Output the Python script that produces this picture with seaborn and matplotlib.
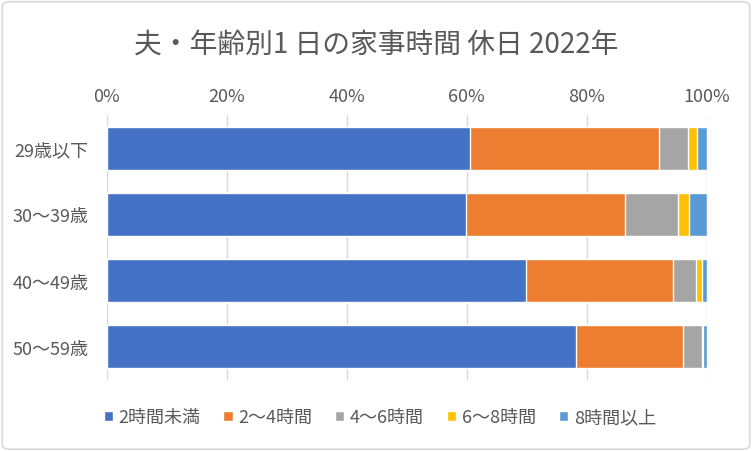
import numpy as np
import pandas as pd
import seaborn as sns
import matplotlib.pyplot as plt
from matplotlib.patches import FancyBboxPatch, Patch
from matplotlib.ticker import PercentFormatter

# data (share of husbands, by age group)
ages = ["29歳以下", "30～39歳", "40～49歳", "50～59歳"]
categories = ["2時間未満", "2～4時間", "4～6時間", "6～8時間", "8時間以上"]
under2 = [60.5, 59.8, 69.8, 78.2]
h2_4 = [31.5, 26.6, 24.5, 17.8]
h4_6 = [4.8, 8.8, 3.9, 3.2]
h6_8 = [1.5, 1.8, 1.0, 0.2]
over8 = [1.7, 3.0, 0.8, 0.6]
colors = ["#4472C4", "#ED7D31", "#A5A5A5", "#FFC000", "#5B9BD5"]

sns.set_style("white")
plt.rcParams["font.family"] = ["Noto Sans CJK JP", "DejaVu Sans"]

df = pd.DataFrame({"age": ages, categories[0]: under2, categories[1]: h2_4,
                   categories[2]: h4_6, categories[3]: h6_8, categories[4]: over8})
cum = df[categories].cumsum(axis=1) / 100

fig = plt.figure(figsize=(7.52, 4.52), dpi=100)
ax = fig.add_axes([0.142, 0.157, 0.798, 0.586])

# draw cumulative totals from the top category down so they stack
for cat, c in reversed(list(zip(categories, colors))):
    sns.barplot(x=cum[cat], y=df["age"], color=c, orient="h", width=0.65,
                ax=ax, zorder=3, saturation=1)

ax.set_xlim(0, 1)
ax.set_xticks(np.arange(0, 1.01, 0.2))
ax.xaxis.set_major_formatter(PercentFormatter(1, decimals=0))
ax.xaxis.tick_top()
ax.grid(axis="x", color="#D9D9D9", lw=1, zorder=0)
ax.set_xlabel("")
ax.set_ylabel("")
ax.tick_params(length=0, labelsize=13, colors="#595959")
ax.tick_params(axis="x", pad=7)
ax.tick_params(axis="y", pad=13)
for s in ax.spines.values():
    s.set_visible(False)

fig.suptitle("夫・年齢別1 日の家事時間 休日 2022年", y=0.935, fontsize=20,
             color="#595959")

handles = [Patch(facecolor=c, label=l) for l, c in zip(categories, colors)]
fig.legend(handles=handles, loc="center", bbox_to_anchor=(0.505, 0.075), ncol=5,
           frameon=False, fontsize=13, handlelength=0.5, handleheight=0.5,
           handletextpad=0.3, columnspacing=1.3, labelcolor="#595959")

border = FancyBboxPatch((0.003, 0.004), 0.994, 0.99, boxstyle="round,pad=0,rounding_size=0.01",
                        transform=fig.transFigure, fill=False, ec="#D9D9D9", lw=1.2)
fig.patches.append(border)

fig.savefig("out.png", dpi=100)
